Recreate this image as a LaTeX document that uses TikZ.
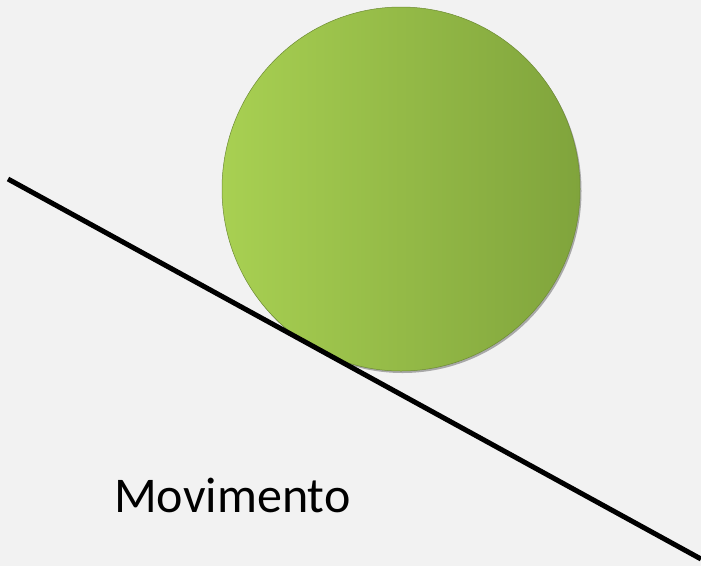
\documentclass[tikz,border=0pt]{standalone}
\usepackage{fontspec}
\setmainfont{Carlito}
\usetikzlibrary{shadows,shapes.geometric}
\definecolor{bg}{HTML}{F2F2F2}
\definecolor{ballL}{HTML}{A8D052}
\definecolor{ballR}{HTML}{80A43C}
\tikzset{
  ball/.style={ellipse, minimum width=358pt, minimum height=364pt, inner sep=0pt,
    left color=ballL, right color=ballR, draw=ballR!85!black, line width=0.5pt,
    drop shadow={shadow xshift=1.5pt, shadow yshift=-2pt, opacity=0.3, fill=black}},
  slope/.style={line width=5pt, black},
  label/.style={font=\fontsize{50}{54}\selectfont, anchor=base west, inner sep=0pt}
}
\begin{document}
\begin{tikzpicture}[x=1pt,y=-1pt]
\fill[bg] (0,0) rectangle (701,566);
\useasboundingbox (0,0) rectangle (701,566);
\node[ball] (b) at (401,189) {};
\coordinate (s) at (8,179);
\coordinate (e) at (701,559);
\draw[slope] (s) -- (e);
\node[label] (t) at (114,512) {Movimento};
\end{tikzpicture}
\end{document}
